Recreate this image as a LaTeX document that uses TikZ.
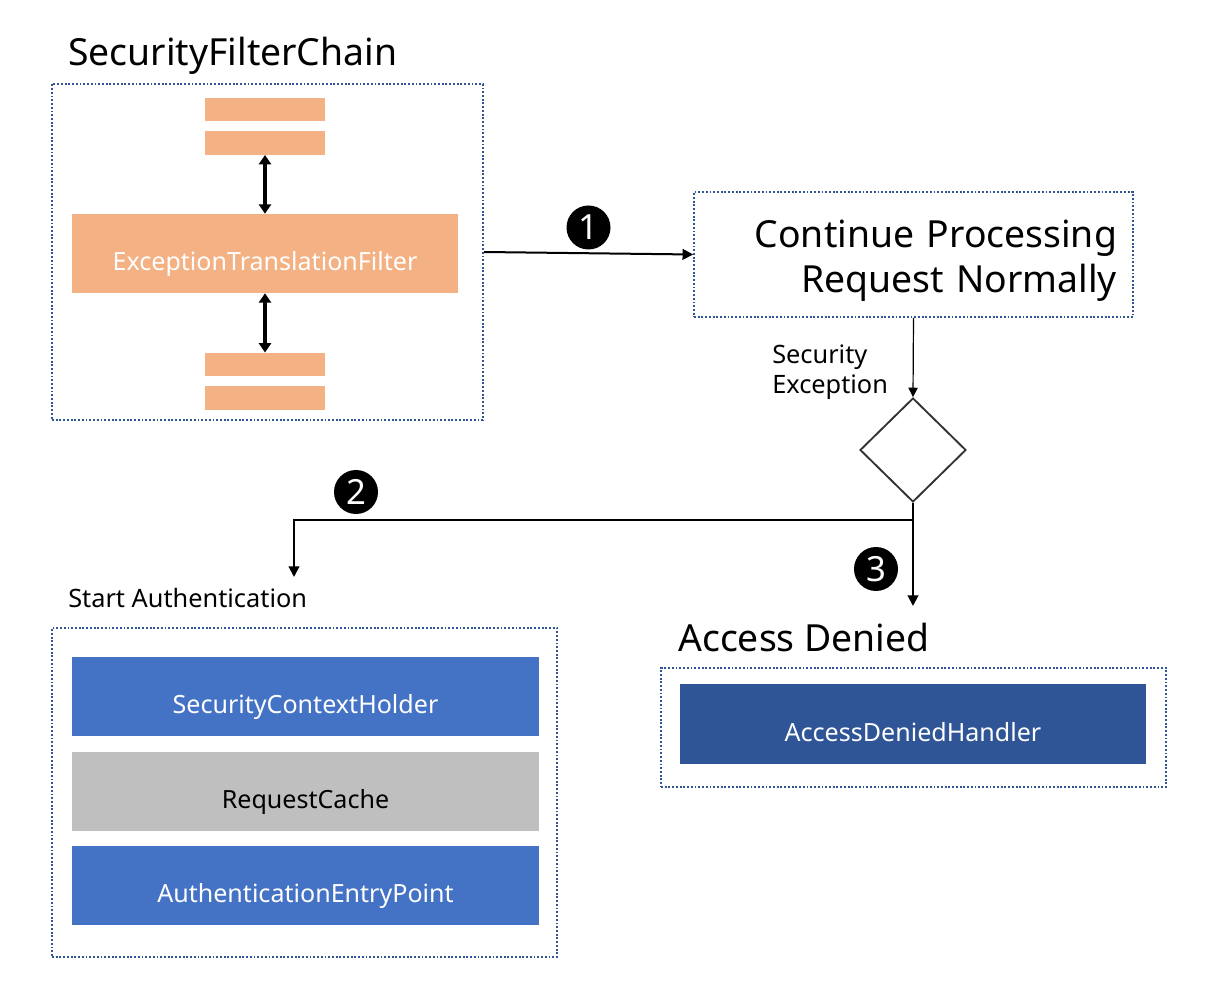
\documentclass[tikz,border=0pt]{standalone}
\usepackage{fontspec}
\setmainfont{Noto Sans}
\usetikzlibrary{arrows.meta,shapes.geometric}
\definecolor{filterorange}{HTML}{F4B183}
\definecolor{ctxblue}{HTML}{4472C4}
\definecolor{handlerblue}{HTML}{2F5597}
\definecolor{cachegray}{HTML}{BFBFBF}
\definecolor{dotblue}{HTML}{2F5597}
\begin{document}
\begin{tikzpicture}[x=0.75pt,y=-0.75pt,
  container/.style={draw=dotblue, line width=1.2pt, dash pattern=on 1.4pt off 1.4pt, inner sep=0},
  fbar/.style={fill=filterorange, minimum width=90pt, minimum height=17.6pt, inner sep=0},
  block/.style={minimum width=350.25pt, minimum height=59.25pt, inner sep=0, text height=26pt, text depth=0pt,
                font=\fontsize{18.8}{20}\selectfont, text=white},
  headtext/.style={font=\fontsize{28}{34}\selectfont, inner sep=0},
  txtlabel/.style={font=\fontsize{19}{22.5}\selectfont, inner sep=0},
  badge/.style={circle, fill=black, minimum size=33pt, inner sep=0, text=white, font=\fontsize{26}{26}\selectfont},
  flow/.style={line width=1.5pt, -{Triangle[length=8pt,width=8pt]}},
  dbl/.style={line width=3pt, {Triangle[length=7pt,width=9pt]}-{Triangle[length=7pt,width=9pt]}},
]
\useasboundingbox (0,0) rectangle (1211,998);

% SecurityFilterChain
\node[container, minimum width=323.25pt, minimum height=252pt] (sfc) at (267.5,252) {};
\node[headtext, anchor=base west] (sfctitle) at (68,66) {SecurityFilterChain};
\node[fbar] (b1) at (265,109.5) {};
\node[fbar] (b2) at (265,143) {};
\node[fbar] (b3) at (265,364.5) {};
\node[fbar] (b4) at (265,398) {};
\node[block, fill=filterorange, minimum width=289.5pt] (etf) at (265,253.5) {ExceptionTranslationFilter};
\draw[dbl] (b2.south) -- (etf.north);
\draw[dbl] (etf.south) -- (b3.north);

% Continue processing
\node[container, minimum height=93.75pt, text width=305.25pt, inner xsep=12pt, align=right,
      font=\fontsize{28}{34}\selectfont] (cont) at (913.5,254.5) {\rule{0pt}{30pt}Continue Processing\\Request Normally};
\draw[flow] (sfc.east) -- (cont.west);
\node[badge] (n1) at (588.5,227.5) {1};

% decision
\node[diamond, draw=black!80, line width=1.4pt, minimum width=79.5pt, minimum height=78pt, inner sep=0] (dec) at (913,450) {};
\draw[line width=0.9pt, -{Triangle[length=7pt,width=7pt]}] (cont.south) -- (dec.north);
\node[txtlabel, align=left, anchor=north west] (secex) at (772,345) {Security\\Exception};

\coordinate (split) at (913,520);
\coordinate (deniedend) at (913,606);
\coordinate (authend) at (294,577);
\draw[line width=1.5pt] (dec.south) -- (split);
\draw[flow] (split) -- (deniedend);
\draw[flow] (split) -| (authend);
\node[badge] (n2) at (356,492) {2};
\node[badge] (n3) at (876,569) {3};

% Start authentication
\node[txtlabel, anchor=base west] (starttext) at (68,607) {Start Authentication};
\node[container, minimum width=378.75pt, minimum height=246.75pt] (authbox) at (304.5,792.5) {};
\node[block, fill=ctxblue] (sch) at (305.5,696.5) {SecurityContextHolder};
\node[block, fill=cachegray, text=black] (rc) at (305.5,791) {RequestCache};
\node[block, fill=ctxblue] (aep) at (305.5,885.5) {AuthenticationEntryPoint};

% Access denied
\node[headtext, anchor=base west] (adtitle) at (678,651) {Access Denied};
\node[container, minimum width=378.75pt, minimum height=89.25pt] (adbox) at (913.5,727.5) {};
\node[block, fill=handlerblue, minimum width=349.5pt, minimum height=60pt] (adh) at (913,724) {AccessDeniedHandler};
\end{tikzpicture}
\end{document}
